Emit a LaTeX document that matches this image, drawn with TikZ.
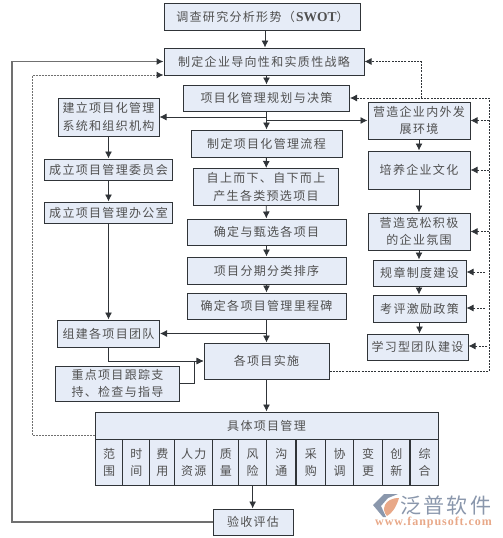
\documentclass[tikz,border=0pt]{standalone}
\usepackage{fontspec}
\setmainfont{Liberation Serif}
\newfontfamily\cjk[LetterSpace=11]{Noto Sans CJK SC}
\usetikzlibrary{arrows.meta,calc,positioning}
\definecolor{ink}{HTML}{303438}
\definecolor{boxfill}{HTML}{E6ECF7}
\definecolor{word}{HTML}{505050}
\definecolor{muted}{HTML}{707070}
\definecolor{logogrey}{HTML}{8A97AC}
\definecolor{logoorange}{HTML}{E8A888}
\tikzset{>={Latex[length=7pt,width=7pt]},line width=1pt,
  every node/.style={font=\cjk\fontsize{12}{17.5}\selectfont},
  box/.style={draw=ink,fill=boxfill,text=word,align=center,inner sep=0pt,line width=1pt},
  cell/.style={box,minimum height=46pt,anchor=north west},
  flow/.style={->,draw=ink,line width=.9pt},
  back/.style={-{Latex[length=7pt,width=7pt,color=ink]},draw=muted,line width=1.3pt},
  guide/.style={->,draw=ink,dash pattern=on 2pt off 1.2pt,line width=.8pt},
  guidegrey/.style={-{Latex[length=7pt,width=7pt,color=ink]},draw=muted,dash pattern=on 2pt off 1pt,line width=1pt}}
\begin{document}
\begin{tikzpicture}[x=1pt,y=-1pt]
\useasboundingbox(0,0)rectangle(503,538);
\node[box,minimum width=196pt,minimum height=27pt](swot)at(262.5,16.7){调查研究分析形势（\textbf{\rmfamily\fontsize{13.5}{17.5}\selectfont SWOT}）};
\node[box,minimum width=200pt,minimum height=27pt](zhanlve)at(264,61.5){制定企业导向性和实质性战略};
\node[box,minimum width=166pt,minimum height=26pt](guihua)at(266.5,98){项目化管理规划与决策};
\node[box,minimum width=101pt,minimum height=38pt](tixi)at(108.5,117){建立项目化管理\\系统和组织机构};
\node[box,minimum width=151pt,minimum height=27pt](liucheng)at(266.5,143.5){制定项目化管理流程};
\node[box,minimum width=145pt,minimum height=37pt](yuxuan)at(266,187){自上而下、自下而上\\产生各类预选项目};
\node[box,minimum width=159pt,minimum height=26pt](zhenxuan)at(266.5,232){确定与甄选各项目};
\node[box,minimum width=159pt,minimum height=27pt](paixu)at(266.5,270.5){项目分期分类排序};
\node[box,minimum width=159pt,minimum height=26pt](lichengbei)at(266.5,306){确定各项目管理里程碑};
\node[box,minimum width=128pt,minimum height=21pt](weiyuanhui)at(108.5,169.5){成立项目管理委员会};
\node[box,minimum width=128pt,minimum height=21pt](bangongshi)at(108.5,212.5){成立项目管理办公室};
\node[box,minimum width=102pt,minimum height=27pt](tuandui)at(108.5,333.5){组建各项目团队};
\node[box,minimum width=125pt,minimum height=36pt](shishi)at(266.5,361){各项目实施};
\node[box,minimum width=124pt,minimum height=35pt](zhongdian)at(117.5,383.5){重点项目跟踪支\\持、检查与指导};
\node[box,minimum width=102pt,minimum height=37pt](huanjing)at(419,120.5){营造企业内外发\\展环境};
\node[box,minimum width=102pt,minimum height=38pt](wenhua)at(419,170){培养企业文化};
\node[box,minimum width=102pt,minimum height=37pt](fenwei)at(419,231.5){营造宽松积极\\的企业氛围};
\node[box,minimum width=93pt,minimum height=26pt](zhidu)at(419.5,273){规章制度建设};
\node[box,minimum width=93pt,minimum height=27pt](jili)at(419.5,308.5){考评激励政策};
\node[box,minimum width=101pt,minimum height=26pt](xuexi)at(417.5,347){学习型团队建设};
\node[box,minimum width=343pt,minimum height=27pt](juti)at(266.5,425.5){具体项目管理};
\node[box,minimum width=80pt,minimum height=26pt](yanshou)at(253,522){验收评估};
%% sub cells
\foreach \nm/\xa/\xb/\txt in {fanwei/95/122.3/范\\围,shijian/122.3/149.3/时\\间,feiyong/149.3/174.3/费\\用,renli/174.3/212.3/人力\\资源,zhiliang/212.3/238.3/质\\量,fengxian/238.3/266/风\\险,goutong/266/295.7/沟\\通,caigou/295.7/325/采\\购,xietiao/325/353.3/协\\调,biangeng/353.3/381.7/变\\更,chuangxin/381.7/410/创\\新,zonghe/410/438/综\\合}{
  \pgfmathsetmacro{\cellw}{\xb-\xa}
  \node[cell,minimum width=\cellw pt](\nm)at(\xa,439){\txt};
}
\draw[ink,line width=1.7pt](caigou.north west)--(caigou.south west);
\draw[ink,line width=1.7pt](zonghe.north west)--(zonghe.south west);
%% main line
\draw[flow](swot.south-|265,0)--(zhanlve.north-|265,0);
\draw[flow](zhanlve.south-|guihua.south)--(guihua.north);
\draw[flow](guihua)--(liucheng);
\draw[flow](liucheng)--(yuxuan);
\draw[flow](yuxuan)--(zhenxuan);
\draw[flow](zhenxuan)--(paixu);
\draw[flow](paixu)--(lichengbei);
\draw[flow](lichengbei)--(shishi);
\draw[flow](shishi)--(juti);
\draw[flow](fengxian.south)--(fengxian.south|-yanshou.north);
%% left column
\draw[flow](tixi)--(weiyuanhui.north-|tixi);
\draw[flow](weiyuanhui.south-|tixi)--(bangongshi.north-|tixi);
\draw[flow](bangongshi.south-|tixi)--(tuandui.north-|tixi);
\draw[flow](guihua.south|-tixi.east)--(tixi.east);
\draw[flow](lichengbei.south|-tuandui.east)--(tuandui.east);
\draw[flow](guihua.south|-huanjing.west)--(huanjing.west);
\draw[flow](tuandui.south-|tixi)|-(shishi.west);
\draw[flow](zhongdian.east)-|(194,361)--(shishi.west);
%% right column
\draw[flow](huanjing)--(wenhua);
\draw[flow](wenhua)--(fenwei);
\draw[flow](fenwei)--(zhidu.north-|fenwei);
\draw[flow](zhidu.south-|fenwei)--(jili.north-|fenwei);
\draw[flow](jili)--(xuexi.north-|jili);
%% feedback
\coordinate(rail)at(489,371.7);
\draw[guide](shishi.east|-rail)--(rail)|-(guihua.east);
\draw[guide](421,98)|-(zhanlve.east);
\draw[guide](rail|-huanjing.east)--(huanjing.east);
\draw[guide](rail|-wenhua.east)--(wenhua.east);
\draw[guide](rail|-fenwei.east)--(fenwei.east);
\draw[guide](485,272)--(zhidu.east|-485,272);
\draw[guide](485,308)--(jili.east|-485,308);
\draw[guide](487,346)--(xuexi.east|-487,346);
\draw[guidegrey](juti.west|-0,435)-|(32,75)--(zhanlve.west|-0,75);
\draw[back](yanshou.west)-|(12,61.5)--(zhanlve.west);
%% logo
\fill[logogrey](373,505)--(384,494)--(398,494)--(388,498)--(381,506)--(386,517)--(383,517)--cycle;
\fill[logoorange](399,498)..controls(396,508)and(392,513)..(387,516)..controls(381,510)and(384,498)..(399,498)--cycle;
\node[text=logogrey,font=\cjk\fontsize{21}{24}\selectfont,anchor=west,inner sep=0pt](brand)at(400,506){泛普软件};
\node[text=logoorange,font=\rmfamily\bfseries\addfontfeature{LetterSpace=8}\fontsize{12}{12}\selectfont,anchor=west,inner sep=0pt](site)at(375,522.5){www.fanpusoft.com};
\end{tikzpicture}
\end{document}
